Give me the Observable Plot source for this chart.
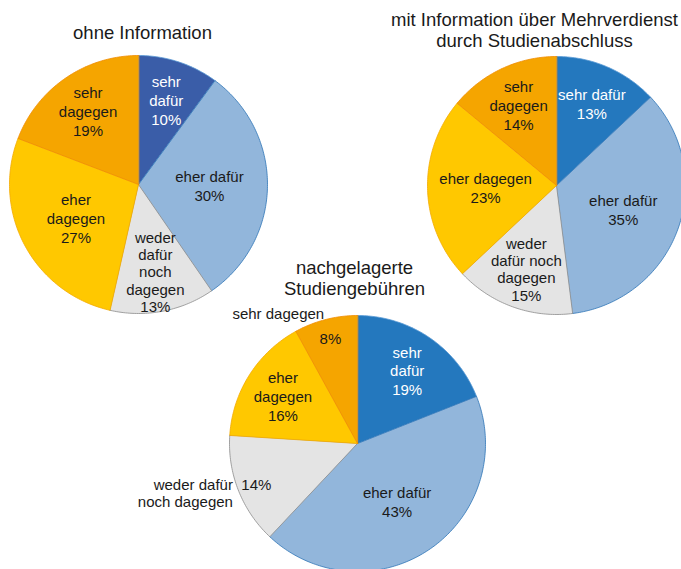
<!DOCTYPE html>
<html>
<head>
<meta charset="utf-8">
<script src="https://cdn.jsdelivr.net/npm/d3@7"></script>
<script src="https://cdn.jsdelivr.net/npm/@observablehq/plot@0.6"></script>
<style>
  html, body { margin: 0; padding: 0; background: #fff; }
  #chart svg { display: block; }
</style>
</head>
<body>
<div id="chart"></div>
<script>
// ---------- data ----------
const categories = ["sehr dafür", "eher dafür", "weder dafür noch dagegen", "eher dagegen", "sehr dagegen"];
const valuesOhne = [10, 30, 13, 27, 19];
const valuesMit  = [13, 35, 15, 23, 14];
const valuesNach = [19, 43, 14, 16, 8];
const labelsOhne = ["sehr\ndafür", "eher dafür", "weder\ndafür\nnoch\ndagegen", "eher\ndagegen", "sehr\ndagegen"];
const labelsMit  = ["sehr dafür", "eher dafür", "weder\ndafür noch\ndagegen", "eher dagegen", "sehr\ndagegen"];
const labelsNach = ["sehr\ndafür", "eher dafür", "weder dafür\nnoch dagegen", "eher\ndagegen", "sehr dagegen"];
const titles = ["ohne Information", "mit Information über Mehrverdienst\ndurch Studienabschluss", "nachgelagerte\nStudiengebühren"];

// ---------- styles / layout ----------
const W = 681, H = 569;
const fills   = ["#2478BE", "#92B6DB", "#E4E4E4", "#FFC800", "#F5A500"];
const strokes = ["#5B9BD5", "#2E75B6", "#8C8C8C", "#F2A900", "#F08C00"];
const pies = [
  {title: titles[0], values: valuesOhne, labels: labelsOhne, cx: 138, cy: 184, r: 129, tx: 142, ty: 32,  first: "#3A5DA8", outside: []},
  {title: titles[1], values: valuesMit,  labels: labelsMit,  cx: 556, cy: 185, r: 129, tx: 534, ty: 29,  first: "#2478BE", outside: []},
  {title: titles[2], values: valuesNach, labels: labelsNach, cx: 357, cy: 443, r: 128, tx: 354, ty: 277, first: "#2478BE", outside: [2, 4]}
];

const slicePts = [];
const texts = [];
pies.forEach((p, pi) => {
  const arcs = d3.pie().sort(null).startAngle(0).endAngle(2 * Math.PI)(p.values);
  const total = d3.sum(p.values);
  arcs.forEach((a, i) => {
    const key = pi + "-" + i;
    const fill = i === 0 ? p.first : fills[i];
    const stroke = strokes[i];
    const n = Math.max(2, Math.ceil((a.endAngle - a.startAngle) / (Math.PI / 180)));
    slicePts.push({key, x: p.cx, y: p.cy, fill, stroke});
    for (let k = 0; k <= n; k++) {
      const t = a.startAngle + (a.endAngle - a.startAngle) * k / n;
      slicePts.push({key, x: p.cx + p.r * Math.sin(t), y: p.cy - p.r * Math.cos(t), fill, stroke});
    }
    const mid = (a.startAngle + a.endAngle) / 2;
    const share = a.value / total;
    const pct = a.value + "%";
    const color = i === 0 ? "white" : "#1a1a1a";
    const at = (rr) => ({x: p.cx + rr * Math.sin(mid), y: p.cy - rr * Math.cos(mid)});
    const compact = p.labels[i].split("\n").length > 2 && i === 2;
    const lh = compact ? 1.15 : 1.25;
    if (p.outside.includes(i)) {
      const o = at(p.r + 6);
      texts.push({...o, text: p.labels[i], fill: "#1a1a1a", anchor: Math.sin(mid) < 0 ? "end" : "start", lh: 1.15});
      const q = at(p.r * 0.85);
      texts.push({...q, text: pct, fill: color, anchor: "middle", lh: 1.25});
    } else {
      const frac = share >= 0.2 ? 0.55 : 0.69;
      const q = at(p.r * frac);
      texts.push({...q, text: p.labels[i] + "\n" + pct, fill: color, anchor: "middle", lh});
    }
  });
});

const groups = d3.groups(texts, d => d.lh + "|" + d.anchor);
const titleData = pies.map(p => ({x: p.tx, y: p.ty, text: p.title}));

const chart = Plot.plot({
  width: W,
  height: H,
  margin: 0,
  style: {fontFamily: "Arial, 'Liberation Sans', sans-serif", background: "white"},
  x: {domain: [0, W], range: [0, W], axis: null},
  y: {domain: [0, H], range: [0, H], axis: null},
  color: {type: "identity"},
  marks: [
    Plot.line(slicePts, {x: "x", y: "y", z: "key", fill: "fill", stroke: "stroke", strokeWidth: 0.8, curve: "linear-closed"}),
    ...groups.map(([k, arr]) => Plot.text(arr, {
      x: "x", y: "y", text: "text", fill: "fill",
      textAnchor: arr[0].anchor, fontSize: 15, lineHeight: arr[0].lh
    })),
    Plot.text(titleData, {x: "x", y: "y", text: "text", fontSize: 18.5, lineHeight: 1.17, fill: "#1a1a1a"})
  ]
});
document.getElementById("chart").appendChild(chart);
</script>
</body>
</html>
